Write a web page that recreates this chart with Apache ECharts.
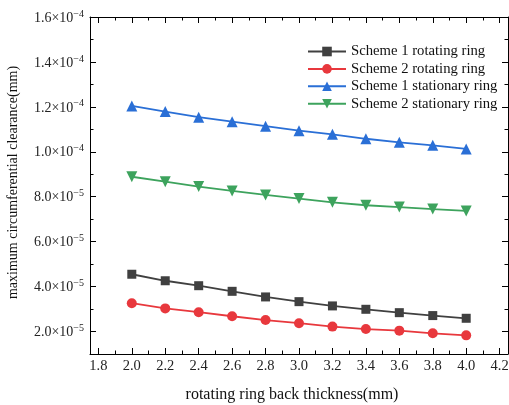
<!DOCTYPE html>
<html>
<head>
<meta charset="utf-8">
<script src="https://cdn.jsdelivr.net/npm/echarts@6/dist/echarts.min.js"></script>
<style>html,body{margin:0;padding:0;background:#fff}#c{width:509px;height:405px}</style>
</head>
<body>
<div id="c"></div>
<script>
const thickness = [2.0, 2.2, 2.4, 2.6, 2.8, 3.0, 3.2, 3.4, 3.6, 3.8, 4.0];
const scheme1Rotating = [4.55e-5, 4.26e-5, 4.04e-5, 3.79e-5, 3.54e-5, 3.33e-5, 3.14e-5, 2.99e-5, 2.84e-5, 2.71e-5, 2.59e-5];
const scheme2Rotating = [3.26e-5, 3.03e-5, 2.86e-5, 2.68e-5, 2.51e-5, 2.37e-5, 2.22e-5, 2.11e-5, 2.04e-5, 1.92e-5, 1.83e-5];
const scheme1Stationary = [1.204e-4, 1.179e-4, 1.154e-4, 1.134e-4, 1.114e-4, 1.094e-4, 1.078e-4, 1.058e-4, 1.042e-4, 1.029e-4, 1.013e-4];
const scheme2Stationary = [8.89e-5, 8.67e-5, 8.45e-5, 8.26e-5, 8.08e-5, 7.92e-5, 7.75e-5, 7.62e-5, 7.54e-5, 7.45e-5, 7.37e-5];
const seriesNames = ['Scheme 1 rotating ring', 'Scheme 2 rotating ring', 'Scheme 1 stationary ring', 'Scheme 2 stationary ring'];
const xTitle = 'rotating ring back thickness(mm)';
const yTitle = 'maximum circumferential clearance(mm)';

const FONT = 'Liberation Serif';
const pair = arr => thickness.map((x, i) => [x, arr[i]]);

function sciLabel(v) {
  const e = Math.floor(Math.log10(v) + 1e-9);
  const m = v / Math.pow(10, e);
  return '{b|' + m.toFixed(1) + '×10}{s|−' + (-e) + '}';
}

const X_MIN = 1.75, X_MAX = 4.25, Y_MIN = 1e-5, Y_MAX = 1.6e-4;
const lineSt = { color: '#000', width: 1 };
const majorTick = { show: true, inside: true, length: 6, lineStyle: lineSt };
const minorTickAsMajor = { show: true, inside: true, length: 3.5, lineStyle: lineSt };

function xAx(pos, major, extra) {
  return Object.assign({
    type: 'value', position: pos, min: X_MIN, max: X_MAX, splitNumber: major ? 12 : 25,
    axisLine: { show: major, lineStyle: lineSt }, axisTick: major ? majorTick : minorTickAsMajor,
    splitLine: { show: false }, axisLabel: { show: false }
  }, extra || {});
}
function yAx(pos, major, extra) {
  return Object.assign({
    type: 'value', position: pos, min: Y_MIN, max: Y_MAX, splitNumber: major ? 8 : 15,
    axisLine: { show: major, lineStyle: lineSt }, axisTick: major ? majorTick : minorTickAsMajor,
    splitLine: { show: false }, axisLabel: { show: false }
  }, extra || {});
}

const chart = echarts.init(document.getElementById('c'), null, { renderer: 'canvas' });
chart.setOption({
  backgroundColor: '#fff',
  animation: false,
  grid: { left: 90, right: 1, top: 17, bottom: 51, containLabel: false, outerBoundsMode: 'none' },
  legend: {
    orient: 'vertical',
    left: 307,
    top: 44,
    padding: 0,
    itemWidth: 38,
    itemHeight: 12,
    itemGap: 2.4,
    textStyle: { fontFamily: FONT, fontSize: 14.7, lineHeight: 15, color: '#111' },
    data: seriesNames
  },
  xAxis: [
    xAx('bottom', true, {
      axisLabel: { show: true, showMinLabel: false, showMaxLabel: false, margin: 5,
        fontFamily: FONT, fontSize: 14.5, color: '#222', formatter: v => v.toFixed(1) },
      name: xTitle, nameLocation: 'middle', nameGap: 33,
      nameTextStyle: { fontFamily: FONT, fontSize: 16, color: '#111', padding: [0, 14, 0, 0] }
    }),
    xAx('bottom', false),
    xAx('top', true),
    xAx('top', false)
  ],
  yAxis: [
    yAx('left', true, {
      axisLabel: {
        show: true, showMinLabel: false, margin: 6, formatter: sciLabel,
        rich: {
          b: { fontFamily: FONT, fontSize: 14, color: '#222', lineHeight: 16, verticalAlign: 'bottom' },
          s: { fontFamily: FONT, fontSize: 10, color: '#222', lineHeight: 16, verticalAlign: 'top', padding: [0, 0, 6, 0] }
        }
      },
      name: yTitle, nameLocation: 'middle', nameGap: 70, nameRotate: 90,
      nameTextStyle: { fontFamily: FONT, fontSize: 14, color: '#111', padding: [0, 0, 0, 6] }
    }),
    yAx('left', false),
    yAx('right', true),
    yAx('right', false)
  ],
  series: [
    { name: seriesNames[0], type: 'line', data: pair(scheme1Rotating), symbol: 'rect', symbolSize: 9,
      itemStyle: { color: '#404040' }, lineStyle: { color: '#404040', width: 1.8 } },
    { name: seriesNames[1], type: 'line', data: pair(scheme2Rotating), symbol: 'circle', symbolSize: 10,
      itemStyle: { color: '#e8383d' }, lineStyle: { color: '#e8383d', width: 1.8 } },
    { name: seriesNames[2], type: 'line', data: pair(scheme1Stationary), symbol: 'triangle', symbolSize: 11,
      itemStyle: { color: '#2a6fd6' }, lineStyle: { color: '#2a6fd6', width: 1.8 } },
    { name: seriesNames[3], type: 'line', data: pair(scheme2Stationary), symbol: 'triangle', symbolRotate: 180, symbolSize: 11,
      itemStyle: { color: '#3da35d' }, lineStyle: { color: '#3da35d', width: 1.8 } }
  ]
});
</script>
</body>
</html>
